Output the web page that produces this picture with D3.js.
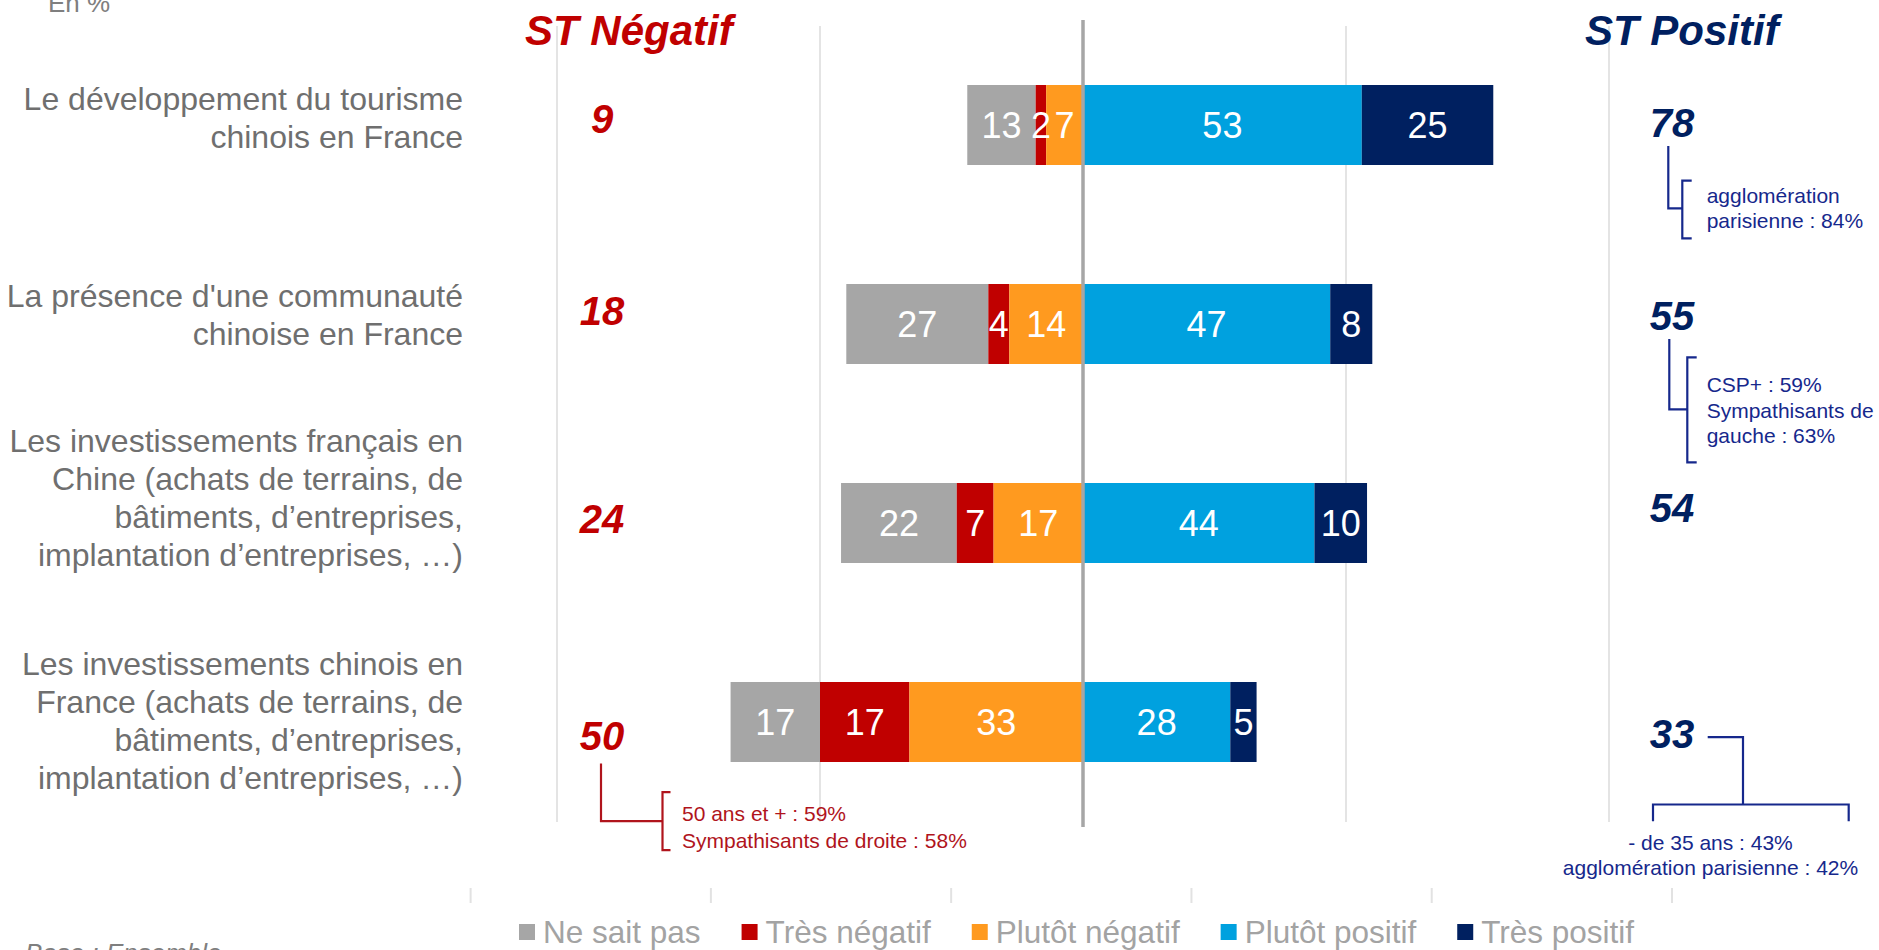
<!DOCTYPE html>
<html>
<head>
<meta charset="utf-8">
<script src="https://cdn.jsdelivr.net/npm/d3@7"></script>
<style>
  html, body { margin: 0; padding: 0; background: #fff; }
  svg { display: block; font-family: "Liberation Sans", Arial, sans-serif; }
</style>
</head>
<body>
<svg id="chart" width="1879" height="950"></svg>
<script>
// ---------- DATA ----------
const categories = [
  "Le développement du tourisme chinois en France",
  "La présence d'une communauté chinoise en France",
  "Les investissements français en Chine (achats de terrains, de bâtiments, d’entreprises, implantation d’entreprises, …)",
  "Les investissements chinois en France (achats de terrains, de bâtiments, d’entreprises, implantation d’entreprises, …)"
];
const categoryLines = [
  ["Le développement du tourisme", "chinois en France"],
  ["La présence d'une communauté", "chinoise en France"],
  ["Les investissements français en", "Chine (achats de terrains, de", "bâtiments, d’entreprises,", "implantation d’entreprises, …)"],
  ["Les investissements chinois en", "France (achats de terrains, de", "bâtiments, d’entreprises,", "implantation d’entreprises, …)"]
];
const seriesNames = ["Ne sait pas", "Très négatif", "Plutôt négatif", "Plutôt positif", "Très positif"];
const neSaitPas     = [13, 27, 22, 17];
const tresNegatif   = [2, 4, 7, 17];
const plutotNegatif = [7, 14, 17, 33];
const plutotPositif = [53, 47, 44, 28];
const tresPositif   = [25, 8, 10, 5];
const stNegatif = [9, 18, 24, 50];
const stPositif = [78, 55, 54, 33];
const gridTicks = [-100, -50, 50, 100];
const colors = ["#A6A6A6", "#C00000", "#FF9A1F", "#00A1DF", "#002060"];

// ---------- SCALES ----------
const svg = d3.select("#chart");
const x = d3.scaleLinear().domain([-100, 100]).range([557, 1609]);
const y = d3.scaleBand().domain(categories).range([25.5, 821.5]).paddingInner(0.598).paddingOuter(0.299);
const bw = y.bandwidth();

// ---------- GRID ----------
svg.append("g").selectAll("line").data(gridTicks).join("line")
  .attr("x1", d => x(d)).attr("x2", d => x(d))
  .attr("y1", 26).attr("y2", 822)
  .attr("stroke", "#E4E4E4").attr("stroke-width", 2);

// ---------- SEGMENTS ----------
const segs = [];
categories.forEach((c, i) => {
  const pn = plutotNegatif[i], tn = tresNegatif[i], ns = neSaitPas[i];
  const pp = plutotPositif[i], tp = tresPositif[i];
  segs.push({c, s: 0, v: ns, a: -(pn + tn + ns), b: -(pn + tn)});
  segs.push({c, s: 1, v: tn, a: -(pn + tn), b: -pn});
  segs.push({c, s: 2, v: pn, a: -pn, b: 0});
  segs.push({c, s: 3, v: pp, a: 0, b: pp});
  segs.push({c, s: 4, v: tp, a: pp, b: pp + tp});
});

const gBars = svg.append("g");
gBars.selectAll("rect").data(segs).join("rect")
  .attr("x", d => x(d.a))
  .attr("width", d => x(d.b) - x(d.a))
  .attr("y", d => y(d.c))
  .attr("height", bw)
  .attr("fill", d => colors[d.s]);

gBars.selectAll("text").data(segs).join("text")
  .attr("x", d => (x(d.a) + x(d.b)) / 2)
  .attr("y", d => y(d.c) + bw / 2 + 13)
  .attr("text-anchor", "middle")
  .attr("fill", "#fff")
  .attr("font-size", 36)
  .text(d => d.v);

// center axis line
svg.append("line")
  .attr("x1", x(0)).attr("x2", x(0))
  .attr("y1", 20).attr("y2", 827)
  .attr("stroke", "#A6A6A6").attr("stroke-width", 3.5);

// ---------- CATEGORY LABELS ----------
const labelShift = [-7, -9, -25, -1];
const LH = 38.3;
categories.forEach((c, i) => {
  const lines = categoryLines[i];
  const cy = y(c) + bw / 2;
  const first = cy - (lines.length - 1) * LH / 2 + 11 + labelShift[i];
  const t = svg.append("text")
    .attr("text-anchor", "end")
    .attr("fill", "#6F6F6F")
    .attr("font-size", 32);
  lines.forEach((l, k) => {
    t.append("tspan").attr("x", 463).attr("y", first + k * LH).text(l);
  });
});

// ---------- TITLES ----------
svg.append("text").attr("x", 48).attr("y", 12)
  .attr("fill", "#7F7F7F").attr("font-size", 26).text("En %");
svg.append("text").attr("x", 525).attr("y", 45)
  .attr("fill", "#C00000").attr("font-size", 42).attr("font-weight", "bold").attr("font-style", "italic")
  .text("ST Négatif");
svg.append("text").attr("x", 1585).attr("y", 45)
  .attr("fill", "#002060").attr("font-size", 42).attr("font-weight", "bold").attr("font-style", "italic")
  .text("ST Positif");

// ---------- ST VALUES ----------
const negShift = [8, 1, 10, 27.5];
const posShift = [12, 6, -1, 25.5];
const NEGX = 602, POSX = 1672;
svg.append("g").selectAll("text").data(categories).join("text")
  .attr("x", NEGX)
  .attr("y", (c, i) => y(c) + bw / 2 + negShift[i])
  .attr("text-anchor", "middle")
  .attr("fill", "#C00000").attr("font-size", 40).attr("font-weight", "bold").attr("font-style", "italic")
  .text((c, i) => stNegatif[i]);
svg.append("g").selectAll("text").data(categories).join("text")
  .attr("x", POSX)
  .attr("y", (c, i) => y(c) + bw / 2 + posShift[i])
  .attr("text-anchor", "middle")
  .attr("fill", "#002060").attr("font-size", 40).attr("font-weight", "bold").attr("font-style", "italic")
  .text((c, i) => stPositif[i]);

// ---------- ANNOTATIONS ----------
const BLUE = "#16288C", RED = "#B0141C";
function path(pts, color) {
  svg.append("path").attr("d", d3.line()(pts))
    .attr("fill", "none").attr("stroke", color).attr("stroke-width", 2.2);
}
function lines(xp, ys, arr, color, anchor) {
  const t = svg.append("text").attr("fill", color).attr("font-size", 21)
    .attr("text-anchor", anchor || "start");
  arr.forEach((s, k) => t.append("tspan").attr("x", xp).attr("y", ys[k]).text(s));
}
// row 1 (positive)
{
  const cy = y(categories[0]) + bw / 2;
  path([[1668.3, cy + 21], [1668.3, cy + 83.3], [1682.3, cy + 83.3]], BLUE);
  path([[1691.7, cy + 55.7], [1682.3, cy + 55.7], [1682.3, cy + 113.3], [1691.7, cy + 113.3]], BLUE);
  lines(1706.7, [cy + 78.3, cy + 103.3], ["agglomération", "parisienne : 84%"], BLUE);
}
// row 2 (positive)
{
  const cy = y(categories[1]) + bw / 2;
  path([[1669.3, cy + 15], [1669.3, cy + 85.3], [1687.3, cy + 85.3]], BLUE);
  path([[1696.7, cy + 33.3], [1687.3, cy + 33.3], [1687.3, cy + 138.3], [1696.7, cy + 138.3]], BLUE);
  lines(1706.7, [cy + 67.7, cy + 93.7, cy + 119.3], ["CSP+ : 59%", "Sympathisants de", "gauche : 63%"], BLUE);
}
// row 4 (negative)
{
  const cy = y(categories[3]) + bw / 2;
  path([[601, cy + 41.5], [601, cy + 99.2], [662.5, cy + 99.2]], RED);
  path([[670.5, cy + 70.2], [662.5, cy + 70.2], [662.5, cy + 128.2], [670.5, cy + 128.2]], RED);
  lines(682, [cy + 99.2, cy + 125.8], ["50 ans et + : 59%", "Sympathisants de droite : 58%"], RED);
}
// row 4 (positive)
{
  const cy = y(categories[3]) + bw / 2;
  path([[1707.7, cy + 15.2], [1743, cy + 15.2], [1743, cy + 82.5]], BLUE);
  path([[1653, cy + 99.2], [1653, cy + 82.5], [1848.7, cy + 82.5], [1848.7, cy + 99.2]], BLUE);
  lines(1710.5, [cy + 127.5, cy + 152.5], ["- de 35 ans : 43%", "agglomération parisienne : 42%"], BLUE, "middle");
}

// ---------- faint ticks above legend ----------
const tickScale = d3.scaleLinear().domain([0, 5]).range([470.6, 1672]);
svg.append("g").selectAll("line").data(d3.range(6)).join("line")
  .attr("x1", d => tickScale(d)).attr("x2", d => tickScale(d))
  .attr("y1", 888).attr("y2", 903)
  .attr("stroke", "#E2E2E2").attr("stroke-width", 2);

// ---------- LEGEND ----------
const lg = svg.append("g");
let lx = 519;
seriesNames.forEach((name, i) => {
  lg.append("rect").attr("x", lx).attr("y", 924).attr("width", 16).attr("height", 16).attr("fill", colors[i]);
  const t = lg.append("text").attr("x", lx + 24).attr("y", 943)
    .attr("fill", "#A3A3A3").attr("font-size", 31.5).text(name);
  lx += 24 + t.node().getComputedTextLength() + 41;
});

// ---------- BASE ----------
svg.append("text").attr("x", 25).attr("y", 962)
  .attr("fill", "#7F7F7F").attr("font-size", 26).attr("font-style", "italic")
  .text("Base : Ensemble");
</script>
</body>
</html>
